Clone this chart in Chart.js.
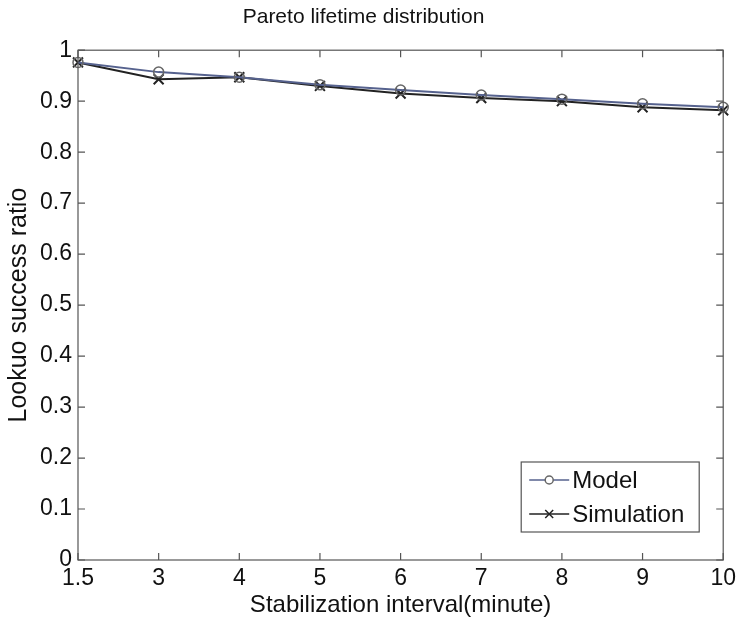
<!DOCTYPE html>
<html>
<head>
<meta charset="utf-8">
<script src="https://cdn.jsdelivr.net/npm/chart.js"></script>
<style>
  html, body { margin: 0; padding: 0; background: #fff; }
  #wrap { width: 741px; height: 620px; }
</style>
</head>
<body>
<div id="wrap"><canvas id="chart" width="741" height="620"></canvas></div>
<script>
// data
const intervals = ['1.5', '3', '4', '5', '6', '7', '8', '9', '10'];
const modelRatio = [0.976, 0.957, 0.947, 0.932, 0.922, 0.912, 0.904, 0.895, 0.888];
const simRatio = [0.976, 0.943, 0.947, 0.930, 0.915, 0.906, 0.900, 0.888, 0.882];
const yTicks = [0, 0.1, 0.2, 0.3, 0.4, 0.5, 0.6, 0.7, 0.8, 0.9, 1];

const FONT = '"Liberation Sans", Arial, sans-serif';

// matlab-ish box with inward ticks
const framePlugin = {
  id: 'frame',
  afterDraw(chart) {
    const { ctx, chartArea: a, scales } = chart;
    ctx.save();
    ctx.strokeStyle = '#555';
    ctx.lineWidth = 1.2;
    ctx.strokeRect(a.left, a.top, a.right - a.left, a.bottom - a.top);
    const len = 7;
    scales.x.ticks.forEach((t, i) => {
      const px = scales.x.getPixelForTick(i);
      ctx.beginPath();
      ctx.moveTo(px, a.bottom); ctx.lineTo(px, a.bottom - len);
      ctx.moveTo(px, a.top); ctx.lineTo(px, a.top + len);
      ctx.stroke();
    });
    scales.y.ticks.forEach((t, i) => {
      const py = scales.y.getPixelForTick(i);
      ctx.beginPath();
      ctx.moveTo(a.left, py); ctx.lineTo(a.left + len, py);
      ctx.moveTo(a.right, py); ctx.lineTo(a.right - len, py);
      ctx.stroke();
    });
    ctx.restore();
  }
};

// legend box inside the lower right corner
const boxLegend = {
  id: 'boxLegend',
  afterDraw(chart) {
    const { ctx, chartArea: a } = chart;
    const w = 178, h = 70;
    const x = a.right - 24 - w, y = a.bottom - 28 - h;
    ctx.save();
    ctx.fillStyle = '#fff';
    ctx.fillRect(x, y, w, h);
    ctx.strokeStyle = '#555';
    ctx.lineWidth = 1.2;
    ctx.strokeRect(x, y, w, h);
    ctx.font = '24px ' + FONT;
    ctx.textBaseline = 'middle';
    chart.data.datasets.forEach((ds, i) => {
      const cy = y + 18 + i * 34;
      ctx.strokeStyle = ds.borderColor;
      ctx.lineWidth = 1.5;
      ctx.beginPath();
      ctx.moveTo(x + 8, cy); ctx.lineTo(x + 48, cy);
      ctx.stroke();
      ctx.strokeStyle = ds.pointBorderColor;
      Chart.helpers.drawPoint(ctx, {
        pointStyle: ds.pointStyle, radius: ds.pointRadius * 0.8,
        borderWidth: ds.pointBorderWidth
      }, x + 28, cy);
      ctx.fillStyle = '#111';
      ctx.fillText(ds.label, x + 51, cy + 1);
    });
    ctx.restore();
  }
};

new Chart(document.getElementById('chart'), {
  type: 'line',
  data: {
    labels: intervals,
    datasets: [
      {
        label: 'Model',
        data: modelRatio,
        borderColor: '#56628e',
        borderWidth: 2,
        pointStyle: 'circle',
        pointRadius: 5,
        pointBorderWidth: 1.5,
        pointBorderColor: '#666',
        pointBackgroundColor: 'rgba(255,255,255,0)',
        tension: 0
      },
      {
        label: 'Simulation',
        data: simRatio,
        borderColor: '#222',
        borderWidth: 2,
        pointStyle: 'crossRot',
        pointRadius: 7,
        pointBorderWidth: 2,
        pointBorderColor: '#222',
        tension: 0
      }
    ]
  },
  options: {
    responsive: false,
    animation: false,
    layout: { padding: { left: 0, right: 14, top: 0, bottom: 0 } },
    plugins: {
      legend: { display: false },
      tooltip: { enabled: false },
      title: {
        display: true,
        text: 'Pareto lifetime distribution',
        color: '#111',
        font: { family: FONT, size: 21, weight: 'normal' },
        padding: { top: 5, bottom: 20 }
      }
    },
    scales: {
      x: {
        type: 'category',
        offset: false,
        grid: { display: false, drawTicks: false },
        border: { display: false },
        ticks: {
          color: '#111', font: { family: FONT, size: 23 }, padding: 5,
          maxRotation: 0, autoSkip: false
        },
        title: {
          display: true, text: 'Stabilization interval(minute)', color: '#111',
          font: { family: FONT, size: 24 }, padding: { top: 0, bottom: 0 }
        },
        afterFit(scale) { scale.height = 60; }
      },
      y: {
        min: 0, max: 1,
        afterBuildTicks(scale) { scale.ticks = yTicks.map(v => ({ value: v })); },
        grid: { display: false, drawTicks: false },
        border: { display: false },
        ticks: {
          color: '#111', font: { family: FONT, size: 23 }, padding: 6,
          callback: v => String(Math.round(v * 10) / 10)
        },
        title: {
          display: true, text: 'Lookuo success ratio', color: '#111',
          font: { family: FONT, size: 25 }, padding: { top: 4, bottom: 0 }
        },
        afterFit(scale) { scale.width = 78; }
      }
    }
  },
  plugins: [framePlugin, boxLegend]
});
</script>
</body>
</html>
